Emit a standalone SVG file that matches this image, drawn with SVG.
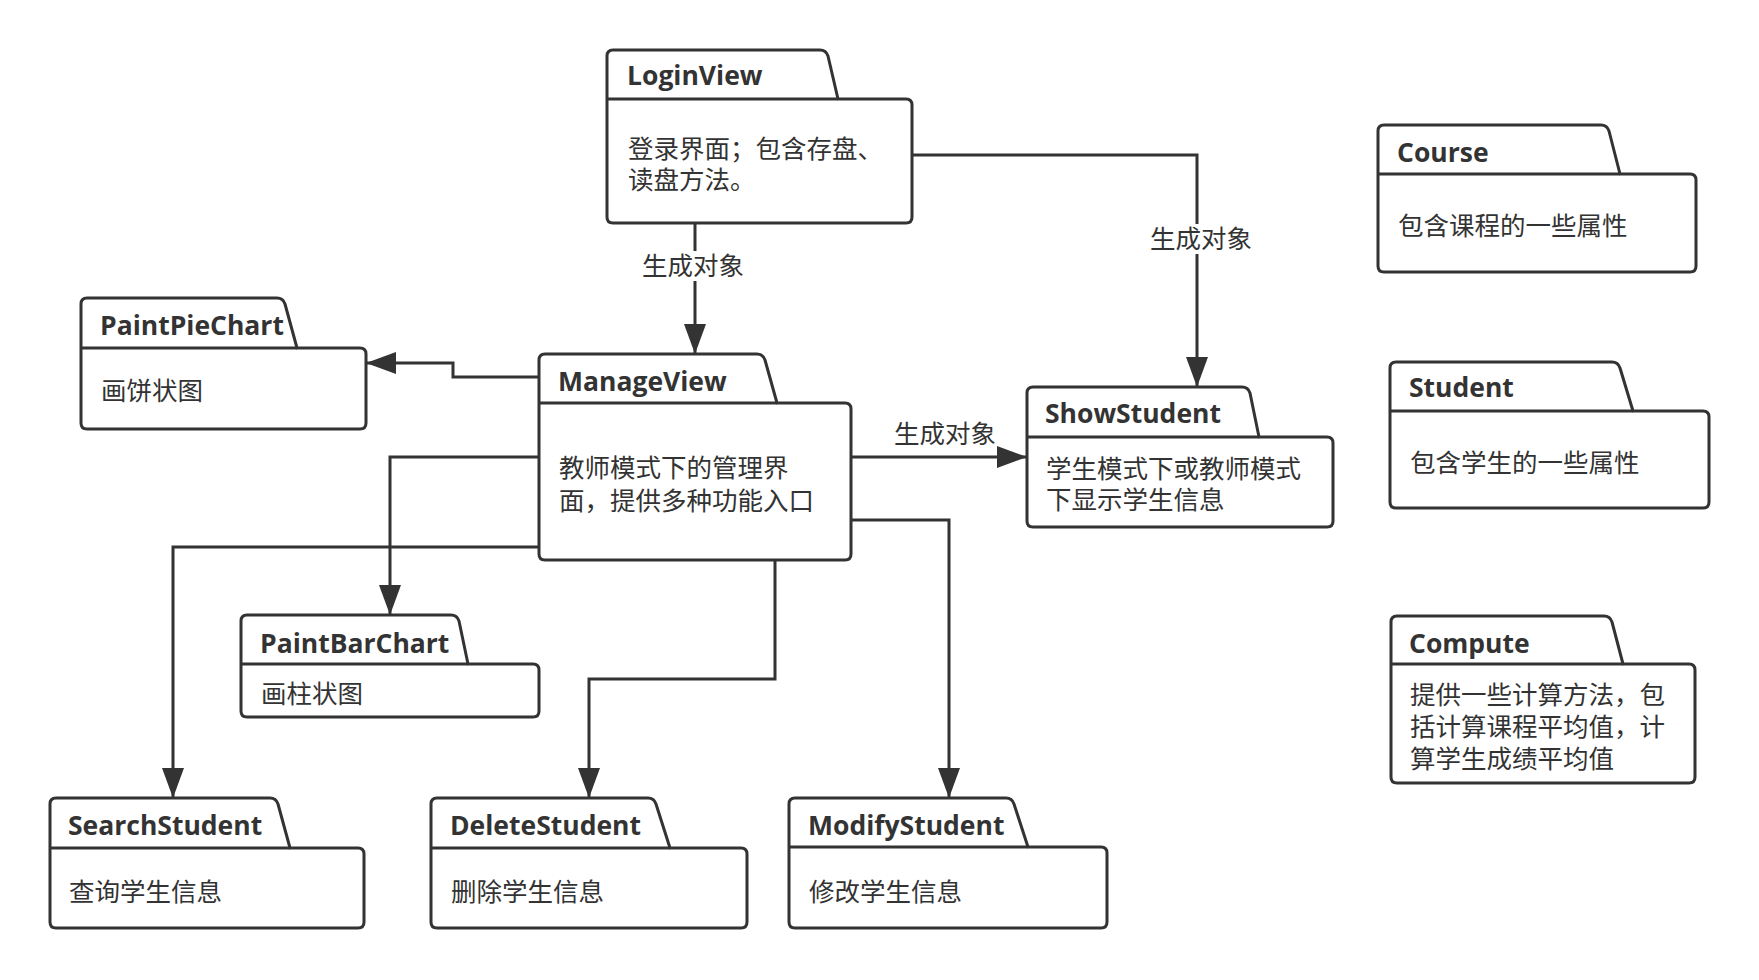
<svg xmlns="http://www.w3.org/2000/svg" width="1759" height="980" viewBox="0 0 1759 980">
<style>
.box{fill:#fff;stroke:#333;stroke-width:3;stroke-linejoin:round}
.div{fill:none;stroke:#333;stroke-width:3}
.ttl{font-family:"Open Sans","Noto Sans",sans-serif;font-weight:700;font-size:26.5px;fill:#333}
.txt{font-family:"Noto Sans CJK SC","Noto Sans",sans-serif;font-size:25.5px;fill:#333}
.edge{fill:none;stroke:#333;stroke-width:3}
.lbl{font-family:"Noto Sans CJK SC","Noto Sans",sans-serif;font-size:25.5px;fill:#333;text-anchor:middle}
</style>
<defs>
<marker id="arr" markerUnits="userSpaceOnUse" markerWidth="30" markerHeight="22" refX="30" refY="11" orient="auto">
<path d="M0,0 L30,11 L0,22 Z" fill="#333"/>
</marker>
</defs>
<rect width="1759" height="980" fill="#fff"/>

<g id="connectors">
<path class="edge" d="M695,224 V354" marker-end="url(#arr)"/>
<path class="edge" d="M912,155 H1197 V387" marker-end="url(#arr)"/>
<path class="edge" d="M539,377 H453 V363 H366" marker-end="url(#arr)"/>
<path class="edge" d="M851,457 H1027" marker-end="url(#arr)"/>
<path class="edge" d="M539,457 H390 V615" marker-end="url(#arr)"/>
<path class="edge" d="M539,547 H173 V798" marker-end="url(#arr)"/>
<path class="edge" d="M775,560 V679 H589 V798" marker-end="url(#arr)"/>
<path class="edge" d="M851,520 H949 V798" marker-end="url(#arr)"/>
<rect x="640" y="251" width="106" height="30" fill="#fff"/>
<text class="lbl" x="693" y="275">生成对象</text>
<rect x="1148" y="224" width="106" height="30" fill="#fff"/>
<text class="lbl" x="1201" y="248">生成对象</text>
<text class="lbl" x="945" y="443">生成对象</text>
</g>

<g id="LoginView">
<path class="box" d="M607,99 V56 Q607,50 613,50 H820 Q826,50 828,56 L838,99 H906 Q912,99 912,105 V217 Q912,223 906,223 H613 Q607,223 607,217 Z"/>
<path class="div" d="M607,99 H838"/>
<text class="ttl" x="627" y="85">LoginView</text>
<text class="txt" x="628" y="158">登录界面；包含存盘、</text>
<text class="txt" x="628" y="189">读盘方法。</text>
</g>

<g id="PaintPieChart">
<path class="box" d="M81,348 V304 Q81,298 87,298 H277 Q283,298 285,304 L297,348 H360 Q366,348 366,354 V423 Q366,429 360,429 H87 Q81,429 81,423 Z"/>
<path class="div" d="M81,348 H297"/>
<text class="ttl" x="100" y="335">PaintPieChart</text>
<text class="txt" x="101" y="400">画饼状图</text>
</g>

<g id="ManageView">
<path class="box" d="M539,403 V360 Q539,354 545,354 H757 Q763,354 765,360 L777,403 H845 Q851,403 851,409 V554 Q851,560 845,560 H545 Q539,560 539,554 Z"/>
<path class="div" d="M539,403 H777"/>
<text class="ttl" x="558" y="391">ManageView</text>
<text class="txt" x="559" y="477">教师模式下的管理界</text>
<text class="txt" x="559" y="510">面，提供多种功能入口</text>
</g>

<g id="ShowStudent">
<path class="box" d="M1027,437 V393 Q1027,387 1033,387 H1242 Q1248,387 1250,393 L1259,437 H1327 Q1333,437 1333,443 V521 Q1333,527 1327,527 H1033 Q1027,527 1027,521 Z"/>
<path class="div" d="M1027,437 H1259"/>
<text class="ttl" x="1045" y="423">ShowStudent</text>
<text class="txt" x="1046" y="478">学生模式下或教师模式</text>
<text class="txt" x="1046" y="509">下显示学生信息</text>
</g>

<g id="Course">
<path class="box" d="M1378,174 V131 Q1378,125 1384,125 H1601 Q1607,125 1609,131 L1620,174 H1690 Q1696,174 1696,180 V266 Q1696,272 1690,272 H1384 Q1378,272 1378,266 Z"/>
<path class="div" d="M1378,174 H1620"/>
<text class="ttl" x="1397" y="162">Course</text>
<text class="txt" x="1398" y="235">包含课程的一些属性</text>
</g>

<g id="Student">
<path class="box" d="M1390,411 V368 Q1390,362 1396,362 H1612 Q1618,362 1620,368 L1633,411 H1703 Q1709,411 1709,417 V502 Q1709,508 1703,508 H1396 Q1390,508 1390,502 Z"/>
<path class="div" d="M1390,411 H1633"/>
<text class="ttl" x="1409" y="397">Student</text>
<text class="txt" x="1410" y="472">包含学生的一些属性</text>
</g>

<g id="Compute">
<path class="box" d="M1391,664 V622 Q1391,616 1397,616 H1604 Q1610,616 1612,622 L1623,664 H1689 Q1695,664 1695,670 V777 Q1695,783 1689,783 H1397 Q1391,783 1391,777 Z"/>
<path class="div" d="M1391,664 H1623"/>
<text class="ttl" x="1409" y="653">Compute</text>
<text class="txt" x="1410" y="704">提供一些计算方法，包</text>
<text class="txt" x="1410" y="736">括计算课程平均值，计</text>
<text class="txt" x="1410" y="768">算学生成绩平均值</text>
</g>

<g id="PaintBarChart">
<path class="box" d="M241,664 V621 Q241,615 247,615 H451 Q457,615 459,621 L468,664 H533 Q539,664 539,670 V711 Q539,717 533,717 H247 Q241,717 241,711 Z"/>
<path class="div" d="M241,664 H468"/>
<text class="ttl" x="260" y="653">PaintBarChart</text>
<text class="txt" x="261" y="703">画柱状图</text>
</g>

<g id="SearchStudent">
<path class="box" d="M50,848 V804 Q50,798 56,798 H270 Q276,798 278,804 L290,848 H358 Q364,848 364,854 V922 Q364,928 358,928 H56 Q50,928 50,922 Z"/>
<path class="div" d="M50,848 H290"/>
<text class="ttl" x="68" y="835">SearchStudent</text>
<text class="txt" x="69" y="901">查询学生信息</text>
</g>

<g id="DeleteStudent">
<path class="box" d="M431,848 V804 Q431,798 437,798 H648 Q654,798 656,804 L670,848 H741 Q747,848 747,854 V922 Q747,928 741,928 H437 Q431,928 431,922 Z"/>
<path class="div" d="M431,848 H670"/>
<text class="ttl" x="450" y="835">DeleteStudent</text>
<text class="txt" x="451" y="901">删除学生信息</text>
</g>

<g id="ModifyStudent">
<path class="box" d="M789,847 V804 Q789,798 795,798 H1006 Q1012,798 1014,804 L1028,847 H1101 Q1107,847 1107,853 V922 Q1107,928 1101,928 H795 Q789,928 789,922 Z"/>
<path class="div" d="M789,847 H1028"/>
<text class="ttl" x="808" y="835">ModifyStudent</text>
<text class="txt" x="809" y="901">修改学生信息</text>
</g>
</svg>
